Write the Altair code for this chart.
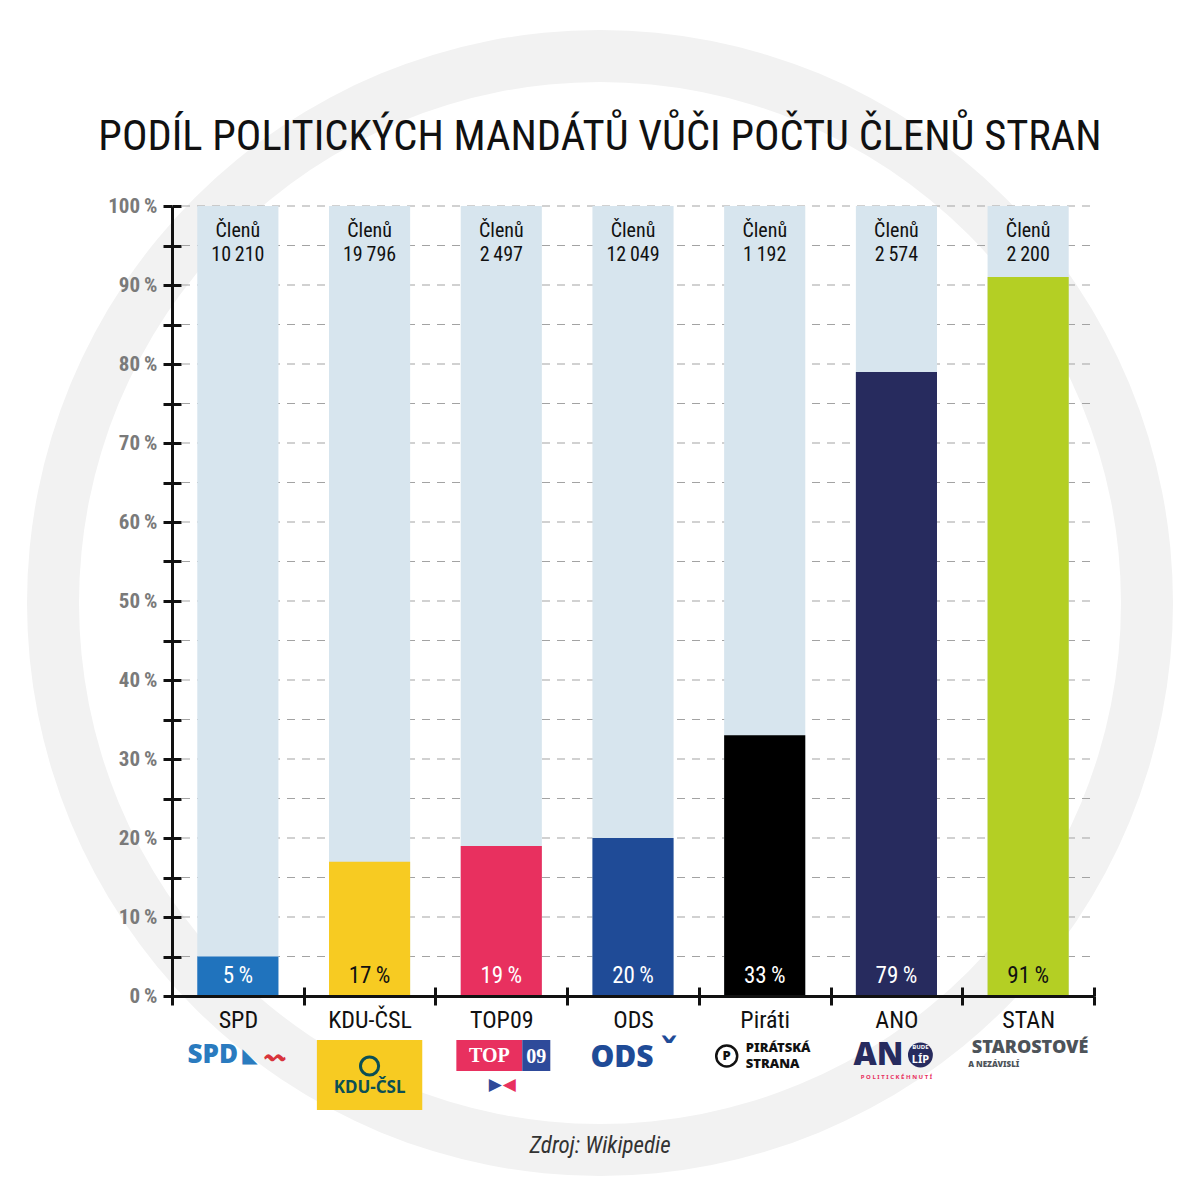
import altair as alt
import pandas as pd

parties = ["SPD", "KDU-ČSL", "TOP09", "ODS", "Piráti", "ANO", "STAN"]
shares = [5, 17, 19, 20, 33, 79, 91]
members = [10210, 19796, 2497, 12049, 1192, 2574, 2200]
bar_colors = ["#2073bd", "#f7cb22", "#e8305f", "#1f4b97", "#000000", "#272b5e", "#b4cf24"]
value_label_colors = ["#ffffff", "#111111", "#ffffff", "#ffffff", "#ffffff", "#ffffff", "#111111"]
y_ticks = list(range(0, 101, 5))
grid_ticks = list(range(5, 101, 5))
title_text = "PODÍL POLITICKÝCH MANDÁTŮ VŮČI POČTU ČLENŮ STRAN"
source_text = "Zdroj: Wikipedie"

W, H = 922, 790
FONT = "'Roboto Condensed', Roboto, sans-serif"
LOGO_FONT = "'Noto Sans', 'Open Sans', 'DejaVu Sans', sans-serif"
SERIF = "'Liberation Serif', 'DejaVu Serif', serif"


def fmt_members(n):
    return f"{n:,}".replace(",", "\u2009")


df = pd.DataFrame({
    "party": parties,
    "share": shares,
    "full": [100] * len(parties),
    "top_label": ["Členů\n" + fmt_members(m) for m in members],
    "value_label": [f"{s}\u2009%" for s in shares],
    "label_color": value_label_colors,
})

x_scale = alt.Scale(domain=parties, paddingInner=0, paddingOuter=0)
y_scale = alt.Scale(domain=[0, 100], nice=False)
color_scale = alt.Scale(domain=parties, range=bar_colors)
BAR_W = {"band": 0.616}
X_PLAIN = alt.X("party:N", scale=x_scale, sort=parties, axis=None)

base = alt.Chart(df)
one_row = pd.DataFrame({"k": [0]})

# faint watermark ring behind the chart
ring = alt.Chart(one_row).mark_arc(
    radius=573, radius2=521, theta=0, theta2=6.2832, color="#f2f2f2"
).encode(x=alt.value(428), y=alt.value(397))

# dashed horizontal grid
grid = alt.Chart(pd.DataFrame({"tick": grid_ticks})).mark_rule(
    color="#a3a3a3", strokeDash=[8, 7], strokeWidth=1
).encode(
    y=alt.Y("tick:Q", scale=y_scale, axis=None),
    x=alt.value(10), x2=alt.value(W),
)

# background (full) bars, carrying the inner half of the crossing ticks
bg = base.mark_bar(color="#d7e5ee", width=BAR_W).encode(
    x=alt.X("party:N", scale=x_scale, sort=parties,
            axis=alt.Axis(orient="top", offset=-H, labels=False, domain=False,
                          ticks=True, tickSize=9, tickWidth=3, tickColor="#111111",
                          tickBand="extent", grid=False, title=None, zindex=1)),
    y=alt.Y("full:Q", scale=y_scale,
            axis=alt.Axis(orient="right", offset=-W, labels=False, domain=False,
                          values=y_ticks, tickSize=9, tickWidth=3, tickColor="#111111",
                          grid=False, title=None, zindex=1)),
)

bars = base.mark_bar(width=BAR_W).encode(
    x=alt.X("party:N", scale=x_scale, sort=parties,
            axis=alt.Axis(orient="bottom", domainColor="#111111", domainWidth=3,
                          tickColor="#111111", tickWidth=3, tickSize=9,
                          tickBand="extent", labelAngle=0, labelFont=FONT,
                          labelFontSize=24, labelColor="#111111", labelPadding=3,
                          grid=False, title=None, zindex=1)),
    y=alt.Y("share:Q", scale=y_scale,
            axis=alt.Axis(orient="left", values=y_ticks, domainColor="#111111",
                          domainWidth=3, tickColor="#111111", tickWidth=3, tickSize=9,
                          labelExpr="datum.value % 10 == 0 ? datum.value + '\u2009%' : ''",
                          labelFont=FONT, labelFontSize=21, labelFontWeight="bold",
                          labelColor="#7a7a7a", labelPadding=6,
                          grid=False, title=None, zindex=1)),
    color=alt.Color("party:N", scale=color_scale, legend=None),
)

value_labels = base.mark_text(font=FONT, fontSize=23, baseline="middle", dy=-20).encode(
    x=X_PLAIN,
    y=alt.Y(datum=0, axis=None),
    text="value_label:N",
    color=alt.Color("label_color:N", scale=None),
)

top_labels = base.mark_text(font=FONT, fontSize=20, baseline="top", dy=15,
                            lineBreak="\n", lineHeight=24, color="#111111").encode(
    x=X_PLAIN,
    y=alt.Y(datum=100, axis=None),
    text="top_label:N",
)

title = alt.Chart(pd.DataFrame({"t": [title_text]})).mark_text(
    font=FONT, fontSize=42.5, color="#111111", baseline="alphabetic"
).encode(text="t:N", x=alt.value(428), y=alt.value(-56))

source = alt.Chart(pd.DataFrame({"t": [source_text]})).mark_text(
    font=FONT, fontSize=23, fontStyle="italic", color="#333333", baseline="middle"
).encode(text="t:N", x=alt.value(428), y=alt.value(940))


# ---- simplified party logos under the category labels ----
def only(party):
    return base.transform_filter(alt.datum.party == party)


def logo_text(party, text, color, size, dx=0, dy=60, font=LOGO_FONT, weight="bold",
              align="center"):
    return only(party).mark_text(
        text=text, color=color, fontSize=size, dx=dx, dy=dy, font=font,
        fontWeight=weight, align=align, baseline="middle"
    ).encode(x=X_PLAIN, y=alt.Y(datum=0, axis=None))


def logo_box(party, color, band, x_off, top, bottom):
    return only(party).mark_bar(color=color, width={"band": band}, xOffset=x_off).encode(
        x=X_PLAIN, y=alt.value(H + top), y2=alt.value(H + bottom))


def logo_dot(party, color, size, x_off, y_off, filled=True, stroke_w=0):
    return only(party).mark_point(shape="circle", size=size, filled=filled, color=color,
                                  opacity=1, strokeWidth=stroke_w,
                                  xOffset=x_off, yOffset=y_off).encode(
        x=X_PLAIN, y=alt.Y(datum=0, axis=None))


logos = [
    logo_text("SPD", "SPD", "#2a7bbf", 26, dx=-25, dy=59, weight=900),
    logo_text("SPD", "◣", "#2a7bbf", 20, dx=12, dy=60, font="DejaVu Sans"),
    logo_text("SPD", "〰", "#d8343c", 20, dx=37, dy=62, font="DejaVu Sans"),
    logo_box("KDU-ČSL", "#f7cb22", 0.8, 0, 44, 114),
    logo_dot("KDU-ČSL", "#0b4f55", 330, 0, 70, filled=False, stroke_w=3),
    logo_text("KDU-ČSL", "KDU-ČSL", "#0b4f55", 17, dy=92),
    logo_box("TOP09", "#e8305f", 0.5, -12, 44, 75),
    logo_box("TOP09", "#2e4a9a", 0.213, 35, 44, 75),
    logo_text("TOP09", "TOP", "#ffffff", 20, dx=-12, dy=60, font=SERIF),
    logo_text("TOP09", "09", "#ffffff", 20, dx=35, dy=61, font=SERIF),
    logo_text("TOP09", "▶", "#2e4a9a", 17, dx=-6, dy=89, font="DejaVu Sans"),
    logo_text("TOP09", "◀", "#e8305f", 17, dx=8, dy=89, font="DejaVu Sans"),
    logo_text("ODS", "ODS", "#1f4b97", 30, dx=-11, dy=62, weight=900),
    logo_text("ODS", "ˇ", "#1f4b97", 40, dx=36, dy=60, font="DejaVu Sans"),
    logo_dot("Piráti", "#111111", 440, -38, 60, filled=False, stroke_w=2.5),
    logo_text("Piráti", "P", "#111111", 13, dx=-38, dy=60, weight=900),
    logo_text("Piráti", "PIRÁTSKÁ", "#111111", 13, dx=-19, dy=52, align="left", weight=900),
    logo_text("Piráti", "STRANA", "#111111", 13, dx=-19, dy=68, align="left", weight=900),
    logo_text("ANO", "AN", "#272b5e", 32, dx=-18, dy=59, weight=900),
    logo_dot("ANO", "#272b5e", 620, 24, 59),
    logo_text("ANO", "BUDE", "#ffffff", 6, dx=24, dy=51),
    logo_text("ANO", "LÍP", "#ffffff", 11, dx=24, dy=64),
    logo_text("ANO", "P O L I T I C K É   H N U T Í", "#e8305f", 6, dx=0, dy=81),
    logo_text("STAN", "STAROSTOVÉ", "#4d5359", 18, dx=2, dy=52, weight=900),
    logo_text("STAN", "A NEZÁVISLÍ", "#4d5359", 8, dx=-60, dy=69, align="left",
              weight=900),
]

chart = alt.layer(ring, grid, bg, bars, value_labels, top_labels, title, source,
                  *logos).resolve_axis(
    x="independent", y="independent"
).properties(
    width=W, height=H,
    autosize=alt.AutoSizeParams(type="none"),
    padding={"left": 164, "top": 198, "right": 98, "bottom": 196},
).configure(background="#ffffff", view=alt.ViewConfig(stroke=None))

chart.save("out.html", embed_options={"renderer": "svg", "actions": False})
